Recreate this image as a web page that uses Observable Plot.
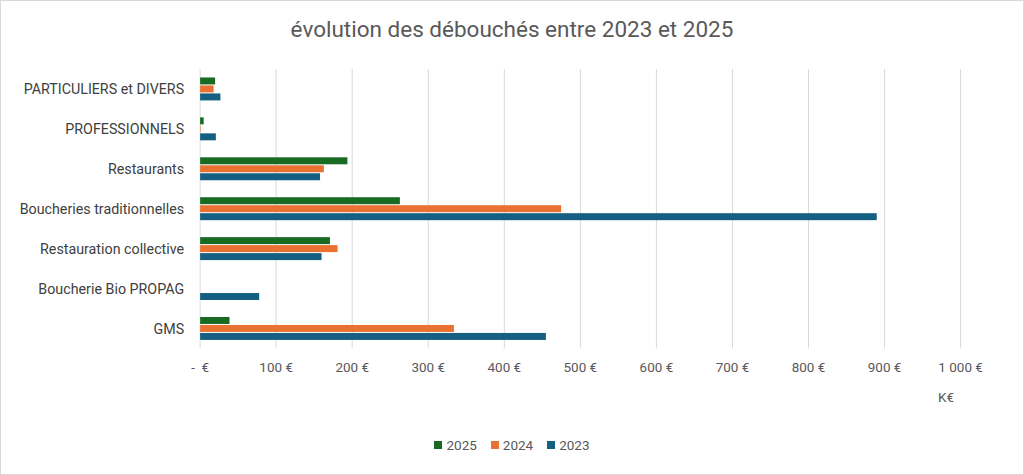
<!DOCTYPE html>
<html>
<head>
<meta charset="utf-8">
<script src="https://cdn.jsdelivr.net/npm/d3@7"></script>
<script src="https://cdn.jsdelivr.net/npm/@observablehq/plot@0.6"></script>
<style>
  body { margin: 0; background: #fff; font-family: Roboto, "Open Sans", sans-serif; }
  #frame { position: relative; width: 1022px; height: 473px; border: 1px solid #d9d9d9; overflow: hidden; }
  #title { position: absolute; top: 15px; left: 0; width: 1022px; text-align: center; font-size: 22.5px; color: #595959; }
  #chart { position: absolute; top: 54px; left: 0; }
  #unit { position: absolute; top: 388px; left: 937px; font-size: 13.5px; color: #595959; }
  #legend { position: absolute; top: 436px; left: 0; width: 1022px; display: flex; justify-content: center; gap: 14px; font-size: 13.5px; color: #595959; }
  .item { display: flex; align-items: center; gap: 4px; }
  .sw { width: 8px; height: 8px; display: inline-block; }
</style>
</head>
<body>
<div id="frame">
  <div id="title">évolution des débouchés entre 2023 et 2025</div>
  <div id="chart"></div>
  <div id="unit">K€</div>
  <div id="legend"></div>
</div>
<script>
const categories = ["PARTICULIERS et DIVERS", "PROFESSIONNELS", "Restaurants", "Boucheries traditionnelles", "Restauration collective", "Boucherie Bio PROPAG", "GMS"];
const years = ["2025", "2024", "2023"];
const values2025 = [21, 6, 195, 264, 172, 0, 40];
const values2024 = [19, 2, 164, 476, 182, 0, 335];
const values2023 = [28, 22, 159, 891, 161, 79, 456];
const colors = ["#196B24", "#E97132", "#156082"];
const xTicks = [0, 100, 200, 300, 400, 500, 600, 700, 800, 900, 1000];

const series = {"2025": values2025, "2024": values2024, "2023": values2023};
const data = [];
categories.forEach((c, i) => years.forEach(y => data.push({cat: c, year: y, value: series[y][i], key: c + "|" + y})));

const yDomain = [];
categories.forEach(c => { yDomain.push(c + "|a"); years.forEach(y => yDomain.push(c + "|" + y)); yDomain.push(c + "|b"); });

const fmt = d => d === 0 ? "-  €" : d3.format(",")(d).replace(/,/g, "\u00a0") + " €";

const chart = Plot.plot({
  width: 1024,
  height: 356,
  marginLeft: 199,
  marginRight: 63,
  marginTop: 14,
  marginBottom: 62,
  style: { fontFamily: "Roboto, sans-serif", fontSize: "12px", color: "#595959", background: "transparent" },
  x: { domain: [0, 1000] },
  y: { domain: yDomain, padding: 0 },
  color: { domain: years, range: colors },
  marks: [
    Plot.gridX(xTicks, { stroke: "#d9d9d9", strokeOpacity: 1, strokeWidth: 1 }),
    Plot.barX(data, { x: "value", y: "key", fill: "year", inset: 0.5 }),
    Plot.axisX({ ticks: xTicks, tickFormat: fmt, tickSize: 0, tickPadding: 14, fontSize: 13.5, label: null }),
    Plot.axisY({ ticks: categories.map(c => c + "|2024"), tickFormat: k => k.split("|")[0], tickSize: 0, tickPadding: 16, fontSize: 14.3, fill: "#404040", label: null })
  ]
});
document.getElementById("chart").appendChild(chart);

const legend = document.getElementById("legend");
years.forEach((y, i) => {
  const it = document.createElement("div");
  it.className = "item";
  it.innerHTML = `<span class="sw" style="background:${colors[i]}"></span><span>${y}</span>`;
  legend.appendChild(it);
});
</script>
</body>
</html>
